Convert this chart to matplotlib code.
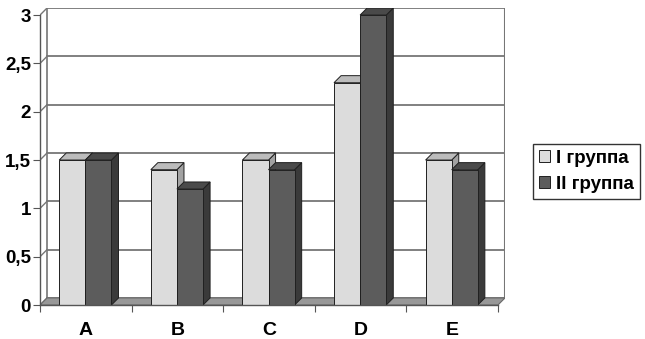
import numpy as np
import matplotlib.pyplot as plt
from matplotlib.patches import Polygon, Patch

# data
categories = ['A', 'B', 'C', 'D', 'E']
group1 = [1.5, 1.4, 1.5, 2.3, 1.5]
group2 = [1.5, 1.2, 1.4, 3.0, 1.4]
series_names = ['I группа', 'II группа']
yticks = [0, 0.5, 1, 1.5, 2, 2.5, 3]
ytick_labels = ['0', '0,5', '1', '1,5', '2', '2,5', '3']

plt.rcParams['font.family'] = ['Liberation Sans', 'DejaVu Sans']
plt.rcParams['font.weight'] = 'bold'

# colours: front, top, side
light = ('#dcdcdc', '#bcbcbc', '#a2a2a2')
dark = ('#5c5c5c', '#4a4a4a', '#3a3a3a')
grid_c = '#767676'
edge_c = '#202020'

fig = plt.figure(figsize=(6.45, 3.39), dpi=100)
ax = fig.add_axes([40 / 645, 34 / 339, 465 / 645, 297 / 339])
dx, dy = 0.077, 0.073   # depth of the fake 3d box
n = len(categories)
ax.set_xlim(0, n + dx)
ax.set_ylim(0, 3 + dy)

# back wall gridlines + side wall diagonals
for v in yticks:
    ax.plot([dx, n + dx], [v + dy, v + dy], color=grid_c, lw=1.3, zorder=1)
    ax.plot([0, dx], [v, v + dy], color=grid_c, lw=1.0, zorder=1)
ax.plot([dx, dx], [dy, 3 + dy], color=grid_c, lw=1.2, zorder=1)
ax.plot([n + dx, n + dx], [dy, 3 + dy], color=grid_c, lw=1.5, zorder=1)

# floor
ax.add_patch(Polygon([(0, 0), (n, 0), (n + dx, dy), (dx, dy)], closed=True,
                     facecolor='#989898', edgecolor='#6a6a6a', lw=0.8, zorder=2))


def bar3d(x0, w, h, cols, z):
    front, top, side = cols
    ax.add_patch(Polygon([(x0 + w, 0), (x0 + w, h), (x0 + w + dx, h + dy), (x0 + w + dx, dy)],
                         closed=True, facecolor=side, edgecolor=edge_c, lw=0.7, zorder=z))
    ax.add_patch(Polygon([(x0, h), (x0 + dx, h + dy), (x0 + w + dx, h + dy), (x0 + w, h)],
                         closed=True, facecolor=top, edgecolor=edge_c, lw=0.7, zorder=z + 0.1))
    ax.bar(x0, h, w, align='edge', color=front, edgecolor=edge_c, lw=0.7, zorder=z + 0.2)


w = 0.285
z = 3
for i in range(n):
    bar3d(i + 0.21, w, group1[i], light, z)
    z += 1
    bar3d(i + 0.21 + w, w, group2[i], dark, z)
    z += 1

# axes
for s in ['top', 'right']:
    ax.spines[s].set_visible(False)
ax.spines['left'].set_bounds(0, 3)
ax.spines['bottom'].set_bounds(0, n)
for s in ['left', 'bottom']:
    ax.spines[s].set_color('#555555')
    ax.spines[s].set_linewidth(1.0)
    ax.spines[s].set_zorder(50)

ax.set_yticks(yticks)
ax.set_yticklabels(ytick_labels, fontsize=13.5, fontweight='bold')
ax.tick_params(axis='y', length=5, pad=1.5, color='#555555')
ax.set_xticks(np.arange(n + 1))
ax.set_xticklabels([])
ax.set_xticks(np.arange(n) + 0.5, minor=True)
ax.set_xticklabels(categories, minor=True, fontsize=14, fontweight='bold')
ax.tick_params(axis='x', which='major', length=5, color='#555555')
ax.tick_params(axis='x', which='minor', length=0, pad=12)

handles = [Patch(facecolor=light[0], edgecolor=edge_c, lw=0.7),
           Patch(facecolor=dark[0], edgecolor=edge_c, lw=0.7)]
leg = fig.legend(handles, series_names, loc='upper left',
                 bbox_to_anchor=(533 / 645, 1 - 144 / 339),
                 fancybox=False, edgecolor='#333333', framealpha=1,
                 fontsize=13.5, handlelength=0.6, handleheight=0.6,
                 handletextpad=0.35, borderpad=0.3, labelspacing=0.5,
                 borderaxespad=0)
leg.get_frame().set_linewidth(1.0)

fig.savefig('out.png', dpi=100)
